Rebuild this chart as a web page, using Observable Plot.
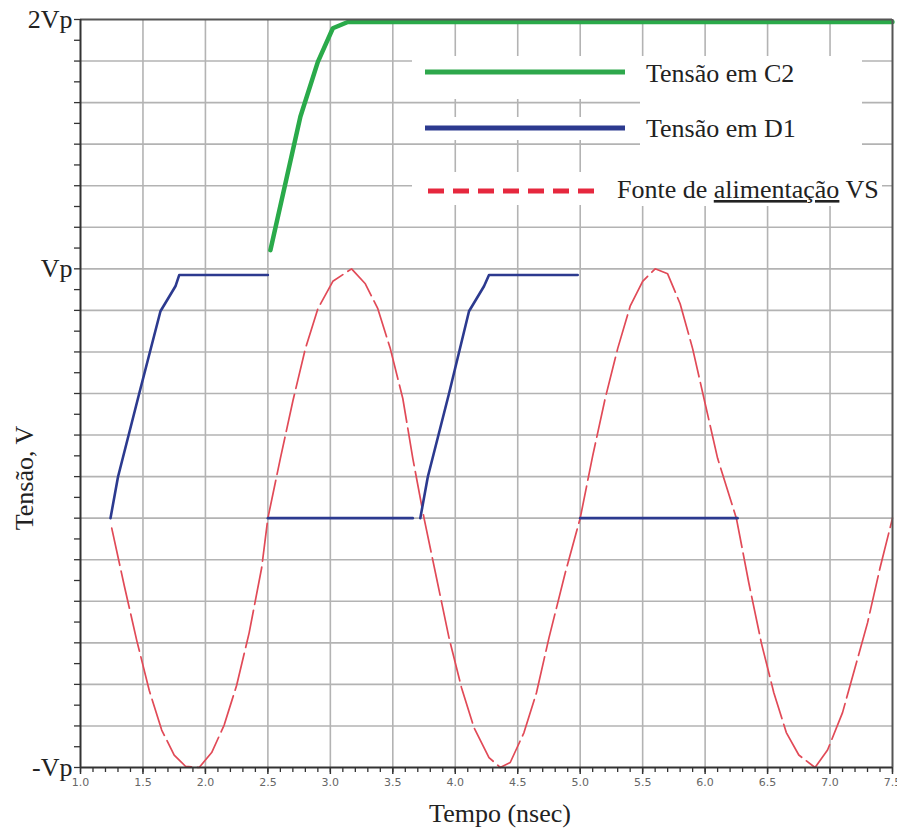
<!DOCTYPE html>
<html><head><meta charset="utf-8">
<script src="https://cdn.jsdelivr.net/npm/d3@7"></script>
<script src="https://cdn.jsdelivr.net/npm/@observablehq/plot@0.6"></script>
<style>body{margin:0;background:#fff;} #chart{width:897px;height:833px;}</style>
</head><body><div id="chart"></div>
<script>
// Fonte de alimentação VS (red dashed)
const vsT = [1.25,1.35,1.45,1.55,1.65,1.75,1.84,1.95,2.05,2.15,2.25,2.35,2.45,2.50,2.60,2.70,2.80,2.90,3.02,3.17,3.28,3.38,3.48,3.58,3.66,3.75,3.85,3.95,4.05,4.15,4.27,4.36,4.44,4.55,4.65,4.75,4.88,5.00,5.10,5.20,5.30,5.40,5.50,5.60,5.70,5.80,5.90,6.00,6.10,6.25,6.35,6.45,6.55,6.65,6.75,6.88,6.98,7.10,7.20,7.30,7.40,7.50];
const vsV = [-0.04,-0.27,-0.49,-0.69,-0.85,-0.95,-0.995,-1.0,-0.94,-0.83,-0.67,-0.46,-0.2,0.0,0.24,0.47,0.68,0.84,0.95,1.0,0.94,0.84,0.68,0.48,0.24,0.0,-0.24,-0.48,-0.68,-0.84,-0.96,-1.0,-0.98,-0.86,-0.7,-0.48,-0.22,0.0,0.25,0.48,0.68,0.85,0.95,1.0,0.98,0.86,0.68,0.46,0.24,0.0,-0.26,-0.5,-0.7,-0.86,-0.95,-1.0,-0.93,-0.78,-0.6,-0.42,-0.2,0.0];
// Tensão em D1 (blue), in separate segments
const d1Seg = [0,0,0,0,0,0,0, 1,1, 2,2,2,2,2,2,2, 3,3];
const d1T = [1.24,1.30,1.47,1.64,1.76,1.79,2.50, 2.50,3.66, 3.72,3.78,3.95,4.11,4.23,4.27,4.98, 5.00,6.26];
const d1V = [0,0.165,0.50,0.83,0.93,0.975,0.975, 0,0, 0,0.165,0.50,0.83,0.93,0.975,0.975, 0,0];
// Tensão em C2 (green)
const c2T = [2.52,2.76,2.90,3.02,3.14,7.50];
const c2V = [1.075,1.61,1.83,1.965,1.99,1.99];

const xMajorTicks = [1.0,1.5,2.0,2.5,3.0,3.5,4.0,4.5,5.0,5.5,6.0,6.5,7.0,7.5];
const xMinorTicks = d3.range(10, 76).map(k => k / 10);
const xGridValues = [1.5,2.0,2.5,3.0,3.5,4.0,4.5,5.0,5.5,6.0,6.5,7.0];
const yTickValues = [2, 1, -1];
const yTickLabels = ["2Vp", "Vp", "-Vp"];
const yGridValues = d3.range(-5, 12).map(k => k / 6);
const yMinorTicks = d3.range(-12, 25).map(k => k / 12);
const legendLabels = ["Tensão em C2", "Tensão em D1", "Fonte de alimentação VS"];
const xLabel = "Tempo (nsec)";
const yLabel = "Tensão, V";

const vs = vsT.map((t, i) => ({t, v: vsV[i]}));
const d1 = d1T.map((t, i) => ({t, v: d1V[i], seg: d1Seg[i]}));
const c2 = c2T.map((t, i) => ({t, v: c2V[i]}));

const serif = "'Liberation Serif','Times New Roman',serif";
const gridStyle = {stroke: "#b3b3b3", strokeOpacity: 1, strokeWidth: 1.6};

const plot = Plot.plot({
  width: 897, height: 833,
  marginLeft: 80, marginRight: 5, marginTop: 19, marginBottom: 66,
  style: {background: "#fff", fontFamily: serif, overflow: "visible"},
  x: {domain: [1, 7.5], label: null},
  y: {domain: [-1, 2], label: null},
  marks: [
    Plot.gridX(xGridValues, gridStyle),
    Plot.gridY(yGridValues, gridStyle),
    Plot.line(vs, {x: "t", y: "v", stroke: "#e14a57", strokeWidth: 1.7, strokeDasharray: "38,6"}),
    Plot.line(d1, {x: "t", y: "v", z: "seg", stroke: "#2c3a8f", strokeWidth: 2.6}),
    Plot.line(c2, {x: "t", y: "v", stroke: "#2aaa4a", strokeWidth: 4.5}),
    Plot.ruleY([2], {stroke: "#555", strokeWidth: 2}),
    Plot.ruleX([7.5], {stroke: "#555", strokeWidth: 2}),
    Plot.axisX(xMinorTicks, {tickSize: 5, text: null, stroke: "#333", strokeWidth: 1.3, label: null}),
    Plot.axisX(xMajorTicks, {tickSize: 7, tickFormat: d3.format(".1f"), fontSize: 11, fill: "#666",
      fontFamily: "'DejaVu Sans',sans-serif", tickPadding: 4, stroke: "#333", strokeWidth: 1.5, label: null}),
    Plot.axisY(yMinorTicks, {tickSize: 6, text: null, stroke: "#333", strokeWidth: 1.3, label: null}),
    Plot.axisY(yTickValues, {tickSize: 0, tickPadding: 8, fontSize: 26, fill: "#222",
      tickFormat: d => yTickLabels[yTickValues.indexOf(d)], label: null}),
    Plot.ruleY([-1], {stroke: "#333", strokeWidth: 2}),
    Plot.ruleX([1], {stroke: "#333", strokeWidth: 2})
  ]
});

const svg = d3.select(plot);
// legend white backgrounds
const rects = [
  [412, 56, 230, 43], [412, 117, 230, 23], [412, 172, 470, 33], [640, 56, 222, 150]
];
svg.append("g").selectAll("rect").data(rects).join("rect")
  .attr("x", d => d[0]).attr("y", d => d[1]).attr("width", d => d[2]).attr("height", d => d[3])
  .attr("fill", "#fff");
const lg = svg.append("g").attr("text-anchor", "start");
lg.append("line").attr("x1", 425).attr("x2", 625).attr("y1", 72).attr("y2", 72)
  .attr("stroke", "#2ea84c").attr("stroke-width", 5);
lg.append("line").attr("x1", 425).attr("x2", 625).attr("y1", 128).attr("y2", 128)
  .attr("stroke", "#2c3a8f").attr("stroke-width", 5);
lg.append("line").attr("x1", 428).attr("x2", 602).attr("y1", 191).attr("y2", 191)
  .attr("stroke", "#e6283e").attr("stroke-width", 5).attr("stroke-dasharray", "16,9");
const tStyle = t => t.attr("font-family", serif).attr("font-size", 26).attr("fill", "#222");
tStyle(lg.append("text").attr("text-anchor", "start").attr("x", 646).attr("y", 82).text(legendLabels[0]));
tStyle(lg.append("text").attr("text-anchor", "start").attr("x", 646).attr("y", 137).text(legendLabels[1]));
const t3 = tStyle(lg.append("text").attr("text-anchor", "start").attr("x", 617).attr("y", 198));
const parts = legendLabels[2].split("alimentação");
t3.append("tspan").text(parts[0]);
t3.append("tspan").style("text-decoration", "underline").text("alimentação");
t3.append("tspan").text(parts[1]);
// axis titles
tStyle(svg.append("text").attr("x", 500).attr("y", 822).attr("text-anchor", "middle").text(xLabel));
tStyle(svg.append("text").attr("transform", "translate(33,478) rotate(-90)").attr("text-anchor", "middle").text(yLabel));

document.getElementById("chart").appendChild(plot);
</script>
</body></html>
